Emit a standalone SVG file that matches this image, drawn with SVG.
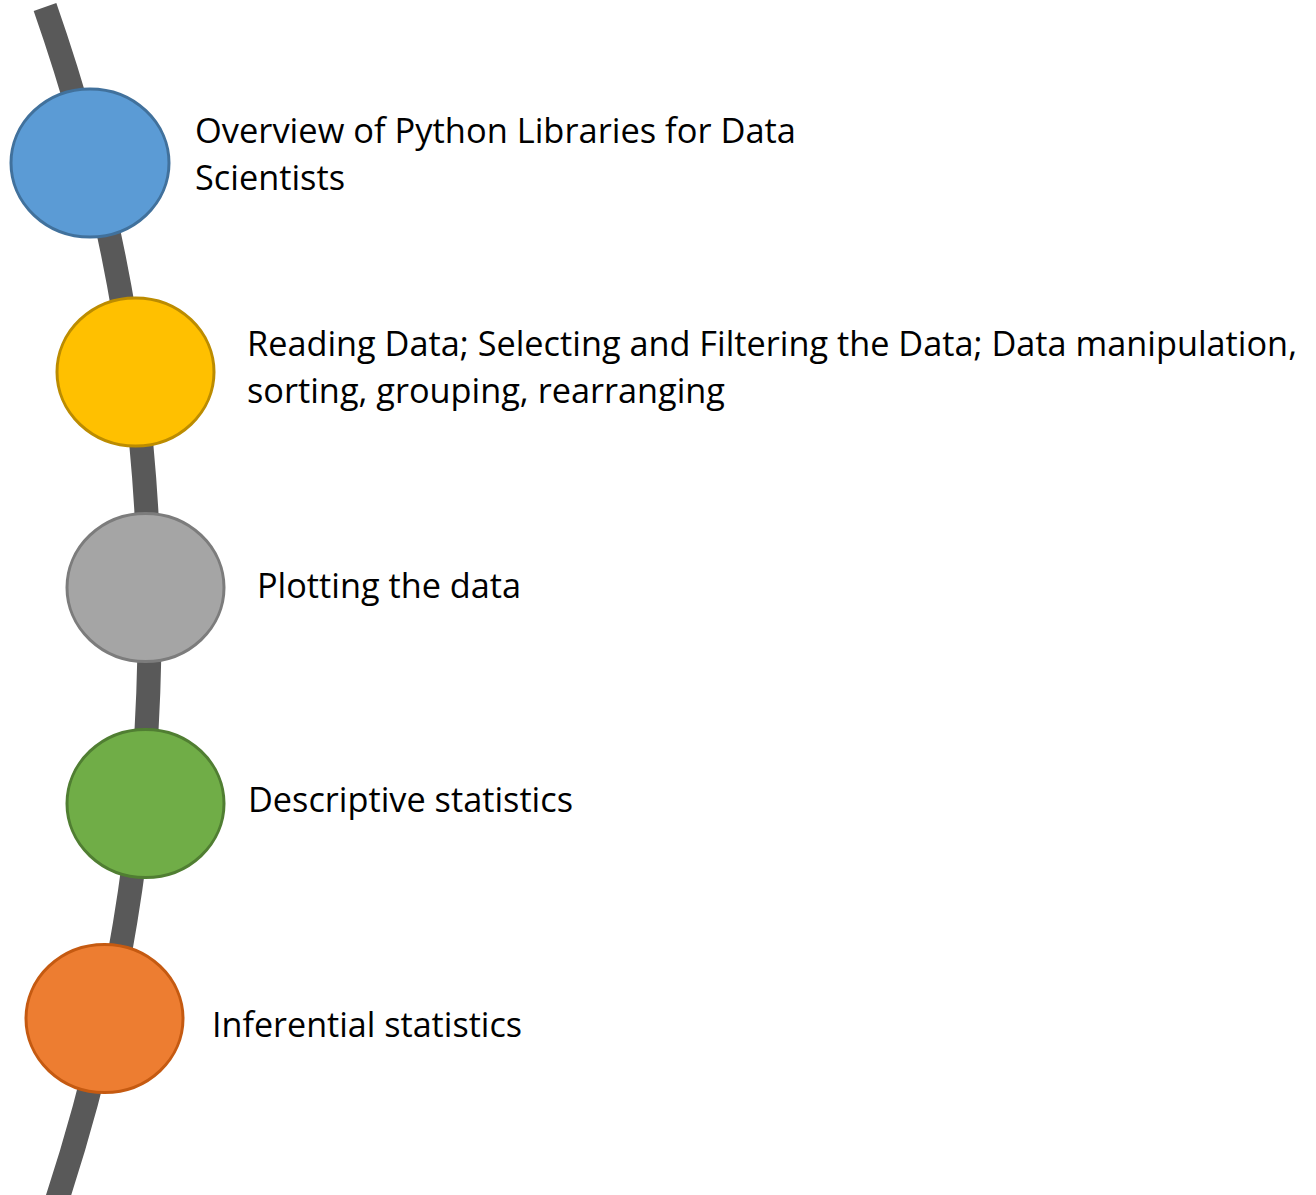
<svg xmlns="http://www.w3.org/2000/svg" width="1316" height="1195" viewBox="0 0 1316 1195">
<style>
.lbl{font-family:"Open Sans","Liberation Sans",sans-serif;font-size:34px;fill:#000}
.node ellipse{stroke-width:3}
</style>
<rect width="1316" height="1195" fill="#fff"/>
<g id="connectors">
<path d="M45,7 A1855,1855 0 0 1 57,1200" fill="none" stroke="#595959" stroke-width="24"/>
</g>
<g id="node1" class="node">
<ellipse cx="90" cy="163" rx="79" ry="74" fill="#5B9BD5" stroke="#41719C"/>
<text class="lbl" x="195" y="143" textLength="601" lengthAdjust="spacingAndGlyphs">Overview of Python Libraries for Data</text>
<text class="lbl" x="195" y="190" textLength="150" lengthAdjust="spacingAndGlyphs">Scientists</text>
</g>
<g id="node2" class="node">
<ellipse cx="135.5" cy="372" rx="78.5" ry="74" fill="#FFC000" stroke="#BC8C00"/>
<text class="lbl" x="247" y="356" textLength="1050" lengthAdjust="spacingAndGlyphs">Reading Data; Selecting and Filtering the Data; Data manipulation,</text>
<text class="lbl" x="247" y="403" textLength="478" lengthAdjust="spacingAndGlyphs">sorting, grouping, rearranging</text>
</g>
<g id="node3" class="node">
<ellipse cx="145.5" cy="587.5" rx="78.5" ry="74" fill="#A5A5A5" stroke="#7C7C7C"/>
<text class="lbl" x="257" y="598" textLength="264" lengthAdjust="spacingAndGlyphs">Plotting the data</text>
</g>
<g id="node4" class="node">
<ellipse cx="145.5" cy="803.5" rx="78.5" ry="74" fill="#70AD47" stroke="#507E32"/>
<text class="lbl" x="248" y="812" textLength="325" lengthAdjust="spacingAndGlyphs">Descriptive statistics</text>
</g>
<g id="node5" class="node">
<ellipse cx="104.5" cy="1018.5" rx="78.5" ry="74" fill="#ED7D31" stroke="#C55A11"/>
<text class="lbl" x="212" y="1037" textLength="310" lengthAdjust="spacingAndGlyphs">Inferential statistics</text>
</g>
</svg>
